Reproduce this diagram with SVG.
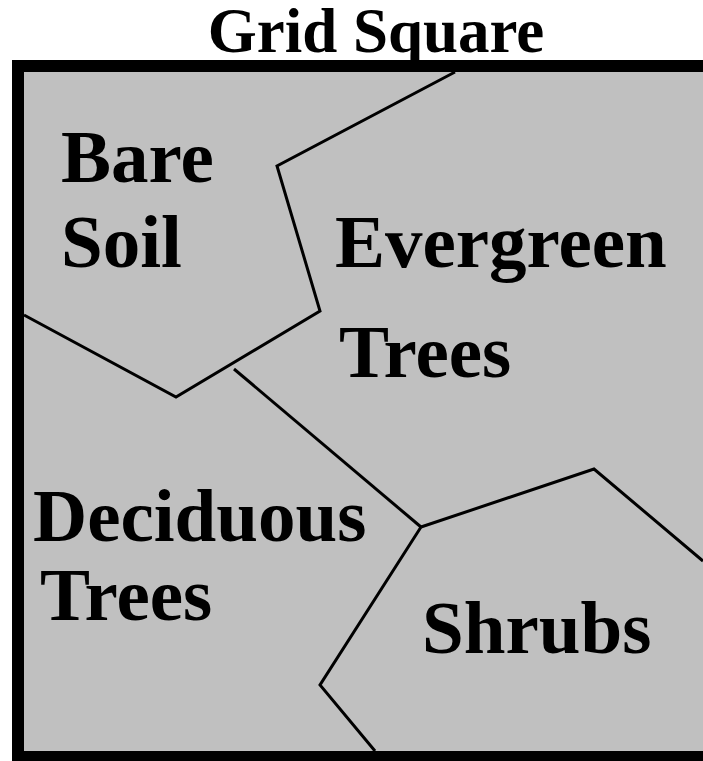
<svg xmlns="http://www.w3.org/2000/svg" width="703" height="761" viewBox="0 0 703 761">
<style>
.t{font-family:'Liberation Serif','Times New Roman',serif;font-weight:700;fill:#000}
.r{font-size:75px}
.b{fill:none;stroke:#000;stroke-width:3;stroke-linejoin:miter}
</style>
<rect width="703" height="761" fill="#fff"/>
<text class="t" x="376" y="52" font-size="63" text-anchor="middle">Grid Square</text>
<g id="square">
<rect x="18" y="66" width="692" height="691" fill="#c0c0c0" stroke="#000" stroke-width="12"/>
</g>
<g id="boundaries">
<polyline class="b" points="24,315 176,397 320,311 277,166 455,72"/>
<polyline class="b" points="234,369 421,527"/>
<polyline class="b" points="421,527 594,469 703,561"/>
<polyline class="b" points="421,527 320,685 375,751"/>
</g>
<g id="bare-soil"><text class="t r" x="61" y="182">Bare</text><text class="t r" x="61" y="267">Soil</text></g>
<g id="evergreen-trees"><text class="t r" x="335" y="267">Evergreen</text><text class="t r" x="339" y="377">Trees</text></g>
<g id="deciduous-trees"><text class="t r" x="33" y="541">Deciduous</text><text class="t r" x="40" y="620">Trees</text></g>
<g id="shrubs"><text class="t r" x="422" y="653">Shrubs</text></g>
</svg>
